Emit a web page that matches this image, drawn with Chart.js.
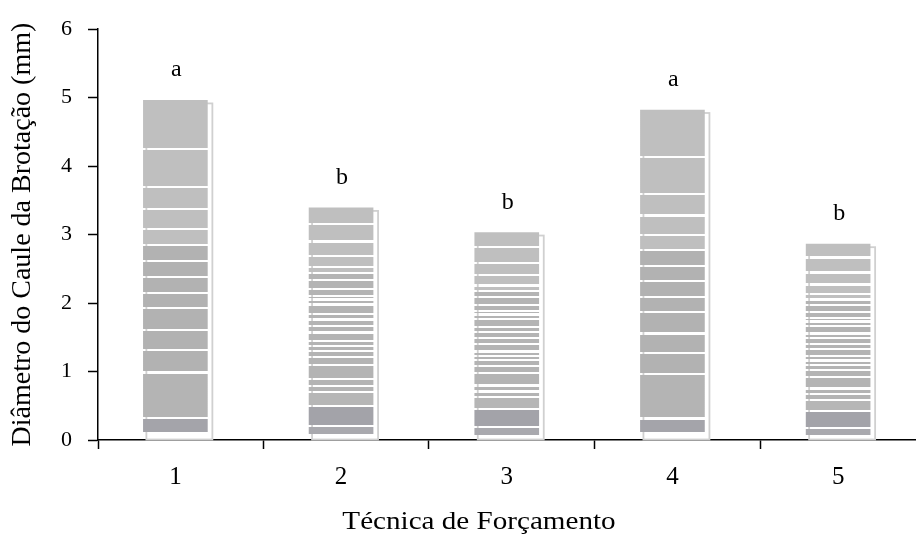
<!DOCTYPE html>
<html>
<head>
<meta charset="utf-8">
<script src="https://cdn.jsdelivr.net/npm/chart.js@4.4.1/dist/chart.umd.min.js"></script>
<style>
  html, body { margin: 0; background: #fff; }
  #wrap { width: 916px; height: 539px; }
</style>
</head>
<body>
<div id="wrap"><canvas id="chart" width="916" height="539"></canvas></div>
<script>
const tecnicas = [1, 2, 3, 4, 5];
const diametro = [4.96, 3.39, 3.03, 4.82, 2.86];
const letras = ["a", "b", "b", "a", "b"];
const yTicks = [0, 1, 2, 3, 4, 5, 6];

const SERIF = "'Liberation Serif', 'Times New Roman', serif";

// stripe texture of the bars (fractions from top of bar to the axis)
const texturaA = {
  cuts: [0.143, 0.255, 0.32, 0.378, 0.425, 0.472, 0.519, 0.566, 0.612, 0.677, 0.736, 0.801, 0.935],
  shades: ["#bfbfbf", "#bfbfbf", "#bfbfbf", "#bfbfbf", "#bfbfbf",
           "#b2b2b2", "#b2b2b2", "#b2b2b2", "#b2b2b2", "#b2b2b2", "#b2b2b2", "#b2b2b2",
           "#b4b4b4", "#a4a4aa"],
  end: 0.977
};
const texturaB = {
  cuts: [0.068, 0.145, 0.206, 0.255, 0.282, 0.31, 0.348, 0.379, 0.395, 0.416, 0.456, 0.481,
         0.508, 0.537, 0.573, 0.594, 0.616, 0.642, 0.677, 0.737, 0.766, 0.794, 0.852, 0.939],
  shades: ["#bfbfbf", "#bfbfbf", "#bfbfbf", "#bfbfbf", "#bfbfbf",
           "#b4b4b4", "#b4b4b4", "#b4b4b4", "#b4b4b4", "#b4b4b4", "#b4b4b4", "#b4b4b4", "#b4b4b4",
           "#b4b4b4", "#b4b4b4", "#b4b4b4", "#b4b4b4", "#b4b4b4", "#b4b4b4", "#b4b4b4", "#b4b4b4",
           "#b4b4b4", "#b6b6b6", "#a3a3a9", "#a9a9ae"],
  end: 0.975
};
const texturas = [texturaA, texturaB, texturaB, texturaA, texturaB];

function stripedFill(c, top, base, tex) {
  const h = Math.max(base - top, 1);
  const g = c.createLinearGradient(0, top, 0, base);
  const half = 1.1 / h;
  const white = "rgba(255,255,255,0)";
  let prev = 0;
  tex.cuts.forEach((f, i) => {
    g.addColorStop(prev, tex.shades[i]);
    g.addColorStop(f - half, tex.shades[i]);
    g.addColorStop(f - half, white);
    g.addColorStop(f + half, white);
    prev = f + half;
  });
  const last = tex.shades[tex.shades.length - 1];
  g.addColorStop(prev, last);
  g.addColorStop(tex.end, last);
  g.addColorStop(tex.end, white);
  g.addColorStop(1, white);
  return g;
}

// back outline of each bar (fake 3d)
const backPanel = {
  id: "backPanel",
  beforeDatasetsDraw(chart) {
    const c = chart.ctx;
    c.save();
    c.strokeStyle = "#d0d0d0";
    c.lineWidth = 1.8;
    chart.getDatasetMeta(0).data.forEach(el => {
      const { x, y, base, width } = el.getProps(["x", "y", "base", "width"], true);
      c.strokeRect(x - width / 2 + 3, y + 3, width + 2, base - y - 3);
    });
    c.restore();
  }
};

const textos = {
  id: "textos",
  afterDatasetsDraw(chart) {
    const c = chart.ctx;
    c.save();
    c.fillStyle = "#000";
    c.font = "24px " + SERIF;
    c.textAlign = "center";
    c.textBaseline = "alphabetic";
    chart.getDatasetMeta(0).data.forEach((el, i) => {
      c.fillText(letras[i], el.x + 1, el.y - 24);
    });
    // x title, a bit wider like the original
    c.font = "26px " + SERIF;
    c.textBaseline = "middle";
    c.translate(479, 522);
    c.scale(1.12, 1);
    c.fillText("Técnica de Forçamento", 0, 0);
    c.restore();
  }
};

Chart.defaults.font.family = SERIF;
Chart.defaults.color = "#000";

new Chart(document.getElementById("chart"), {
  type: "bar",
  data: {
    datasets: [{
      data: tecnicas.map((t, i) => ({ x: t, y: diametro[i] })),
      barThickness: 64,
      borderWidth: 0,
      backgroundColor(ctx) {
        const chart = ctx.chart;
        if (!chart.chartArea || ctx.dataIndex === undefined) return "#b4b4b4";
        const ys = chart.scales.y;
        const top = ys.getPixelForValue(diametro[ctx.dataIndex]);
        const base = ys.getPixelForValue(0);
        return stripedFill(chart.ctx, top, base, texturas[ctx.dataIndex]);
      }
    }]
  },
  options: {
    responsive: false,
    animation: false,
    devicePixelRatio: 1,
    layout: { padding: { top: 28, right: 0, left: 0, bottom: 0 } },
    plugins: {
      legend: { display: false },
      tooltip: { enabled: false }
    },
    scales: {
      x: {
        type: "linear",
        offset: false,
        min: 0.533,
        max: 5.47,
        afterBuildTicks(scale) {
          const vals = [0.533];
          tecnicas.forEach(t => {
            vals.push(t);
            if (t + 0.53 < scale.max) vals.push(t + 0.53);
          });
          scale.ticks = vals.map(v => ({ value: v }));
        },
        afterFit(scale) { scale.height = 99; },
        border: { color: "#000", width: 1.5 },
        grid: {
          display: true,
          offset: false,
          drawOnChartArea: false,
          drawTicks: true,
          tickLength: 9,
          tickWidth: 1.5,
          tickColor: ctx => (ctx.tick && Number.isInteger(ctx.tick.value)) ? "rgba(0,0,0,0)" : "#000"
        },
        ticks: {
          autoSkip: false,
          maxRotation: 0,
          padding: 13,
          font: { size: 25 },
          callback: v => Number.isInteger(v) ? String(v) : ""
        }
      },
      y: {
        min: 0,
        max: 6,
        afterBuildTicks(scale) {
          scale.ticks = yTicks.map(v => ({ value: v }));
        },
        afterFit(scale) { scale.width = 98; },
        border: { color: "#000", width: 1.5 },
        grid: {
          display: true,
          drawOnChartArea: false,
          drawTicks: true,
          tickLength: 10,
          tickWidth: 1.5,
          tickColor: "#000"
        },
        ticks: {
          padding: 16,
          font: { size: 22 }
        },
        title: {
          display: true,
          text: "Diâmetro do Caule da Brotação (mm)",
          font: { size: 28 },
          padding: { top: 6, bottom: 0 }
        }
      }
    }
  },
  plugins: [backPanel, textos]
});
</script>
</body>
</html>
